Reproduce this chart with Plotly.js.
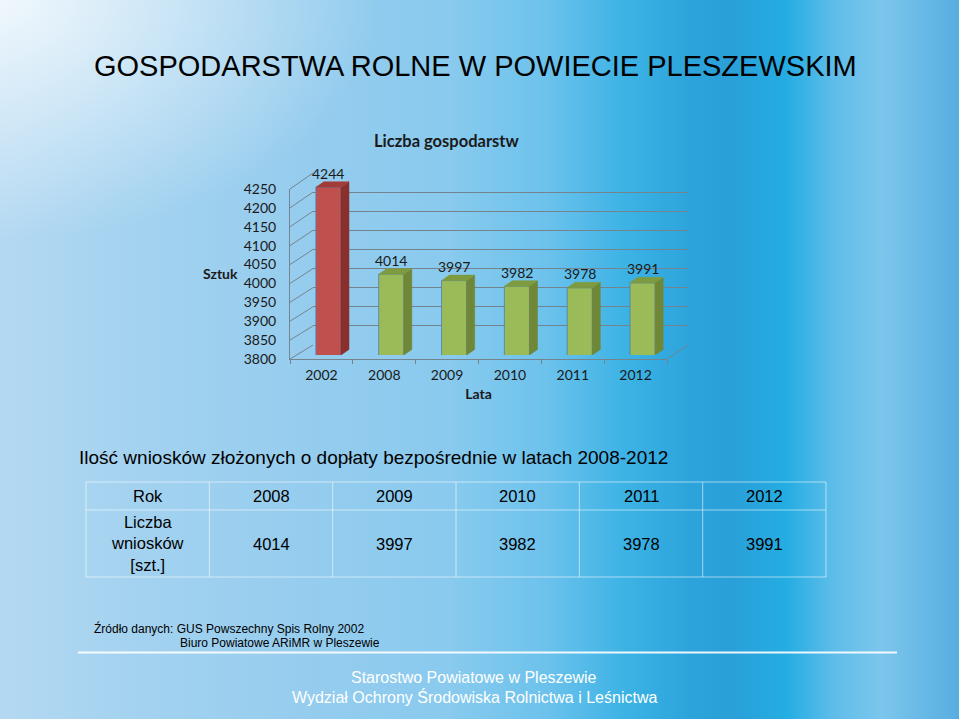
<!DOCTYPE html>
<html>
<head>
<meta charset="utf-8">
<script src="https://cdn.plot.ly/plotly-3.0.1.min.js"></script>
<style>
  html, body { margin:0; padding:0; }
  body {
    width:959px; height:719px; overflow:hidden;
    background:
      radial-gradient(ellipse 380px 240px at 0% 0%, rgba(255,255,255,0.8), rgba(255,255,255,0) 100%),
      linear-gradient(90deg, #b4d9f2 0%, #a5d3f0 12%, #97cdee 30%, #89caee 47%, #6cc2ec 57%, #3db3e5 65%, #2ca4db 72%, #2a9fd8 76%, #24ade2 82%, #5fbde9 87%, #7cc6ec 92%, #56aee0 100%);
  }
  #chart { width:959px; height:719px; }
</style>
</head>
<body>
<div id="chart"></div>
<script>
// ---------------- data ----------------
const years = ['2002', '2008', '2009', '2010', '2011', '2012'];
const farms = [4244, 4014, 3997, 3982, 3978, 3991];
const yTicks = [3800, 3850, 3900, 3950, 4000, 4050, 4100, 4150, 4200, 4250];
const tableYears = ['2008', '2009', '2010', '2011', '2012'];
const applications = [4014, 3997, 3982, 3978, 3991];
const slideTitle = 'GOSPODARSTWA ROLNE W POWIECIE PLESZEWSKIM';
const chartTitle = 'Liczba gospodarstw';
const yTitle = 'Sztuk';
const xTitle = 'Lata';
const tableTitle = 'Ilość wniosków złożonych o dopłaty bezpośrednie w latach 2008-2012';
const tableHeadLabel = 'Rok';
const tableRowLabel = 'Liczba<br>wniosków<br>[szt.]';
const sourceLines = ['Źródło danych: GUS Powszechny Spis Rolny 2002', 'Biuro Powiatowe ARiMR w Pleszewie'];
const footerLines = ['Starostwo Powiatowe w Pleszewie', 'Wydział Ochrony Środowiska Rolnictwa i Leśnictwa'];

// ---------------- geometry helpers (layout, not data) ----------------
const W = 959, H = 719;
const px = p => p / W;
const py = p => 1 - p / H;
const yMin = 3800, yMax = 4250;
const FRONT = {x0: 290, x1: 667, yb: 359, yt: 189};   // front plane (axes + labels)
const BACK = {x0: 313, x1: 688, yb: 345, yt: 173};    // back wall (gridlines)
const BAR = {x0: 297, x1: 674, yb: 355};              // bar plane
const pxPerUnit = (FRONT.yb - FRONT.yt) / (yMax - yMin);
const barTopRange = 4300;
const BAR_yt = BAR.yb - (barTopRange - yMin) * pxPerUnit;
const slotPx = (BAR.x1 - BAR.x0) / years.length;
const depthX = 8 / slotPx;
const depthY = 5.5 / pxPerUnit;
const halfW = 0.2;

const frontY = v => py(FRONT.yb) + (v - yMin) / (yMax - yMin) * (py(FRONT.yt) - py(FRONT.yb));
const backY  = v => py(BACK.yb)  + (v - yMin) / (yMax - yMin) * (py(BACK.yt)  - py(BACK.yb));

const idx = years.map((_, i) => i);
const isRed = i => i === 0;
const frontCol = i => isRed(i) ? '#c0504d' : '#9bbb59';
const sideCol  = i => isRed(i) ? '#8a2f2c' : '#6f8737';
const topCol   = i => isRed(i) ? '#a33c39' : '#7f9b3f';

const gridColor = '#74848f';
const chartFont = 'Lato, "Open Sans", sans-serif';
const slideFont = '"Liberation Sans", Arial, sans-serif';
const dark = '#1a1a1a';

// ---------------- traces ----------------
const traces = [];
traces.push({
  type: 'bar', x: idx, y: farms, width: 0.4,
  xaxis: 'x3', yaxis: 'y3',
  marker: {color: idx.map(frontCol), line: {color: '#4f7fae', width: 0.8}},
  hovertext: years, hoverinfo: 'text+y', showlegend: false
});
idx.forEach(i => {
  const v = farms[i];
  traces.push({   // side face
    type: 'scatter', mode: 'lines', fill: 'toself', xaxis: 'x3', yaxis: 'y3',
    x: [i + halfW, i + halfW + depthX, i + halfW + depthX, i + halfW, i + halfW],
    y: [yMin, yMin + depthY, v + depthY, v, yMin],
    fillcolor: sideCol(i), line: {color: sideCol(i), width: 0.5},
    hoverinfo: 'skip', showlegend: false
  });
  traces.push({   // top face
    type: 'scatter', mode: 'lines', fill: 'toself', xaxis: 'x3', yaxis: 'y3',
    x: [i - halfW, i + halfW, i + halfW + depthX, i - halfW + depthX, i - halfW],
    y: [v, v, v + depthY, v + depthY, v],
    fillcolor: topCol(i), line: {color: topCol(i), width: 0.5},
    hoverinfo: 'skip', showlegend: false
  });
});
traces.push({type: 'scatter', x: [0], y: [yMin], xaxis: 'x', yaxis: 'y', mode: 'markers',
  marker: {opacity: 0}, hoverinfo: 'skip', showlegend: false});
traces.push({type: 'scatter', x: [0], y: [yMin], xaxis: 'x2', yaxis: 'y2', mode: 'markers',
  marker: {opacity: 0}, hoverinfo: 'skip', showlegend: false});

// ---------------- shapes ----------------
const shapes = [];
yTicks.forEach(v => {
  shapes.push({type: 'line', xref: 'paper', yref: 'paper', layer: 'below',
    x0: px(FRONT.x0), y0: frontY(v), x1: px(BACK.x0), y1: backY(v),
    line: {color: gridColor, width: 1}});
});
shapes.push({type: 'line', xref: 'paper', yref: 'paper', layer: 'below',
  x0: px(FRONT.x1), y0: frontY(yMin), x1: px(BACK.x1), y1: backY(yMin),
  line: {color: gridColor, width: 1}});

const T = {x0: 86, x1: 826, y0: 482, y1: 510, y2: 577};
const nCols = tableYears.length + 1;
const colW = (T.x1 - T.x0) / nCols;
const tLine = {color: 'rgba(255,255,255,0.55)', width: 1};
[T.y0, T.y1, T.y2].forEach(y => shapes.push({type: 'line', xref: 'paper', yref: 'paper',
  x0: px(T.x0), x1: px(T.x1), y0: py(y), y1: py(y), line: tLine}));
for (let k = 0; k <= nCols; k++) {
  shapes.push({type: 'line', xref: 'paper', yref: 'paper',
    x0: px(T.x0 + k * colW), x1: px(T.x0 + k * colW), y0: py(T.y0), y1: py(T.y2), line: tLine});
}
shapes.push({type: 'line', xref: 'paper', yref: 'paper',
  x0: px(78), x1: px(897), y0: py(652.5), y1: py(652.5),
  line: {color: 'rgba(255,255,255,0.9)', width: 2}});

// ---------------- annotations ----------------
const ann = [];
const txt = (text, x, y, size, opts) => Object.assign({
  text: text, xref: 'paper', yref: 'paper', x: px(x), y: py(y), showarrow: false,
  xanchor: 'center', yanchor: 'middle',
  font: {family: slideFont, size: size, color: '#000'}
}, opts || {});

ann.push(txt(slideTitle, 475, 66, 29));
ann.push(txt('<b>' + chartTitle + '</b>', 446, 141, 16.5, {font: {family: chartFont, size: 16.5, color: dark}}));
ann.push(txt('<b>' + yTitle + '</b>', 220, 273, 14, {font: {family: chartFont, size: 14, color: dark}}));
idx.forEach(i => ann.push({
  text: String(farms[i]), xref: 'x3', yref: 'y3', x: i, y: farms[i], yshift: 14,
  showarrow: false, xanchor: 'center', yanchor: 'middle',
  font: {family: chartFont, size: 14, color: dark}
}));
ann.push(txt(tableTitle, 77, 457, 19, {xanchor: 'left'}));
const rowH = (T.y0 + T.y1) / 2, rowV = (T.y1 + T.y2) / 2;
ann.push(txt(tableHeadLabel, T.x0 + colW / 2, rowH, 16.5));
ann.push(txt(tableRowLabel, T.x0 + colW / 2, rowV, 16.5));
tableYears.forEach((y, k) => {
  const cx = T.x0 + (k + 1.5) * colW;
  ann.push(txt(y, cx, rowH, 16.5));
  ann.push(txt(String(applications[k]), cx, rowV, 16.5));
});
ann.push(txt(sourceLines[0], 92, 628, 12, {xanchor: 'left'}));
ann.push(txt(sourceLines[1], 178, 643, 12, {xanchor: 'left'}));
ann.push(txt(footerLines[0], 474, 677, 16, {font: {family: slideFont, size: 16, color: '#ffffff'}}));
ann.push(txt(footerLines[1], 474, 697, 16, {font: {family: slideFont, size: 16, color: '#ffffff'}}));

// ---------------- layout ----------------
const tickFont = {family: chartFont, size: 14, color: dark};
const layout = {
  width: W, height: H,
  margin: {l: 0, r: 0, t: 0, b: 0, pad: 0},
  paper_bgcolor: 'rgba(0,0,0,0)', plot_bgcolor: 'rgba(0,0,0,0)',
  showlegend: false,
  xaxis: {domain: [px(BACK.x0), px(BACK.x1)], range: [0, 1], anchor: 'y',
    showgrid: false, zeroline: false, showticklabels: false, showline: false, ticks: '', fixedrange: true},
  yaxis: {domain: [py(BACK.yb), py(BACK.yt)], range: [yMin, yMax], anchor: 'x',
    tickmode: 'array', tickvals: yTicks, showticklabels: false, ticks: '',
    showgrid: true, gridcolor: gridColor, gridwidth: 1, zeroline: false, showline: false, fixedrange: true},
  xaxis2: {domain: [px(FRONT.x0), px(FRONT.x1)], range: [-0.5, years.length - 0.5], anchor: 'y2',
    tickmode: 'array', tickvals: idx, ticktext: years, ticks: '',
    minor: {tick0: -0.5, dtick: 1, ticks: 'outside', ticklen: 4, tickcolor: gridColor, tickwidth: 1},
    showgrid: false, zeroline: false, showline: true, linecolor: gridColor, linewidth: 1,
    tickfont: tickFont, ticklabelstandoff: 3,
    title: {text: '<b>' + xTitle + '</b>', font: {family: chartFont, size: 14, color: dark}, standoff: 7},
    fixedrange: true},
  yaxis2: {domain: [py(FRONT.yb), py(FRONT.yt)], range: [yMin, yMax], anchor: 'x2',
    tickmode: 'array', tickvals: yTicks, ticks: '',
    showgrid: false, zeroline: false, showline: true, linecolor: gridColor, linewidth: 1,
    tickfont: tickFont, ticklabelstandoff: 10, fixedrange: true},
  xaxis3: {domain: [px(BAR.x0), px(BAR.x1)], range: [-0.5, years.length - 0.5], anchor: 'y3',
    visible: false, fixedrange: true},
  yaxis3: {domain: [py(BAR.yb), py(BAR_yt)], range: [yMin, barTopRange], anchor: 'x3',
    visible: false, fixedrange: true},
  bargap: 0,
  shapes: shapes,
  annotations: ann
};

Plotly.newPlot('chart', traces, layout, {displayModeBar: false, staticPlot: true});
</script>
</body>
</html>
